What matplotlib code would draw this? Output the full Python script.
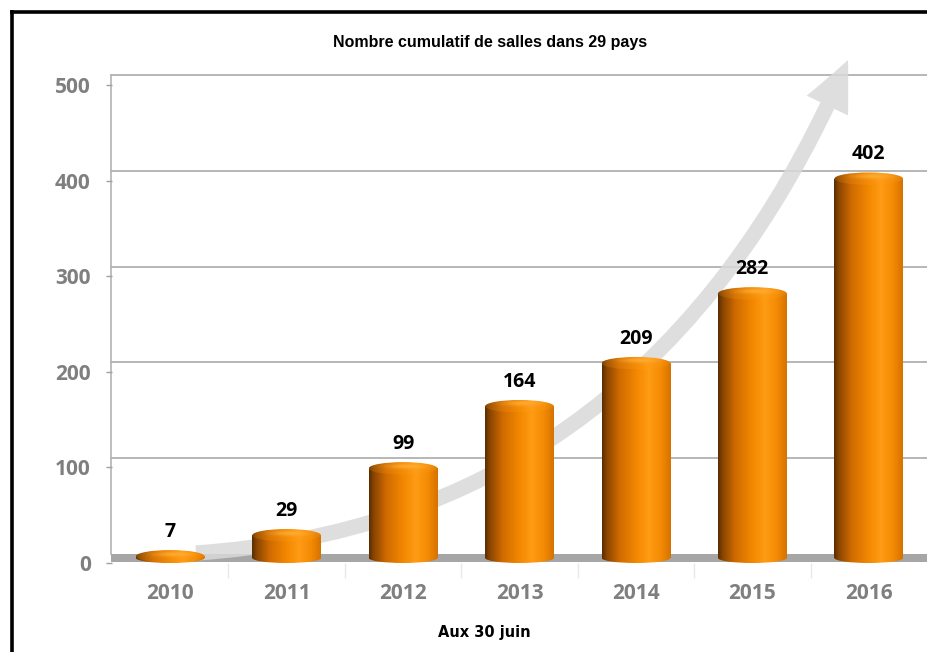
import numpy as np
import matplotlib
matplotlib.use("Agg")
import matplotlib.pyplot as plt
import matplotlib.transforms as mtransforms
from matplotlib.patches import Ellipse, Rectangle, FancyArrowPatch, ArrowStyle
from matplotlib.path import Path
from matplotlib.lines import Line2D
from matplotlib.colors import to_rgb

# ---- data ----
years = ["2010", "2011", "2012", "2013", "2014", "2015", "2016"]
salles = [7, 29, 99, 164, 209, 282, 402]
yticks = [0, 100, 200, 300, 400, 500]
title = "Nombre cumulatif de salles dans 29 pays"
xlabel = "Aux 30 juin"

NUMFONT = ["Open Sans", "DejaVu Sans"]

W, H = 927, 652
fig = plt.figure(figsize=(W / 100, H / 100), dpi=100)
fig.patch.set_facecolor("white")
ax = fig.add_axes([112 / W, (H - 563) / H, (W - 112) / W, (563 - 85) / H])
ax.set_facecolor("none")
x = np.arange(len(years))

ax.set_xlim(-0.5, 6.5)
ax.set_ylim(0, 500)
for s in ax.spines.values():
    s.set_visible(False)

px_per_unit = (563 - 85) / 500.0
off = mtransforms.ScaledTranslation(0, 9.5 / 100, fig.dpi_scale_trans)
back = ax.transData + off

# gridlines on back wall
for yv in yticks[1:]:
    ax.plot([-0.51, 6.5], [yv, yv], transform=back, color="#a3a3a3", lw=1.1,
            zorder=1, clip_on=False)
# left wall line
ax.plot([-0.51, -0.51], [0, 500], transform=back, color="#b3b3b3", lw=1.2,
        zorder=1, clip_on=False)
# floor
ax.fill_between([-0.51, 6.5], [-8 / px_per_unit] * 2, [0, 0], transform=back,
                color="#a6a6a6", lw=0, zorder=1.5, clip_on=False)

# ticks
ax.set_yticks(yticks)
ax.set_yticklabels([str(t) for t in yticks])
ax.tick_params(axis="y", length=4.3, width=1, color="#a0a0a0", pad=11,
               labelsize=15, labelcolor="#7f7f7f")
ax.set_xticks(x)
ax.set_xticklabels(years)
ax.tick_params(axis="x", length=0, pad=14.5, labelsize=15, labelcolor="#7f7f7f")
ax.set_xticks(np.arange(-0.5, 7.0, 1.0)[1:-1], minor=True)
ax.tick_params(axis="x", which="minor", length=11, width=1, color="#e8e8e8")
for lab in ax.get_xticklabels() + ax.get_yticklabels():
    lab.set_fontfamily(NUMFONT)
    lab.set_fontweight("bold")

# arrow (decorative trend arrow)
def fp(px, py):
    return (px / W, 1 - py / H)

apath = Path([fp(196, 553), fp(650, 522), fp(848, 60)],
             [Path.MOVETO, Path.CURVE3, Path.CURVE3])
arrow = FancyArrowPatch(path=apath,
                        arrowstyle=ArrowStyle.Simple(head_length=36, head_width=33,
                                                     tail_width=11),
                        mutation_scale=1, transform=fig.transFigure,
                        color="#d9d9d9", alpha=0.85, lw=0, zorder=2, clip_on=False)
ax.add_patch(arrow)

# bars
bw = 0.59
bars = ax.bar(x, salles, width=bw, color="none", edgecolor="none", zorder=3)

stops = [(0.0, "#5a2c00"), (0.07, "#8a4500"), (0.25, "#cf6a00"),
         (0.5, "#f38800"), (0.68, "#ff9b14"), (0.86, "#f48a04"), (1.0, "#d57200")]
n = 256
pos = np.linspace(0, 1, n)
sp = [s[0] for s in stops]
cols = np.array([to_rgb(s[1]) for s in stops])
grad = np.stack([np.interp(pos, sp, cols[:, k]) for k in range(3)], axis=-1)
body_img = grad[np.newaxis, :, :]

# top cap image: brighter with soft highlight near top centre
ny = 64
yy = np.linspace(1, -1, ny)[:, None]
xx = np.linspace(-1, 1, n)[None, :]
top = np.repeat(body_img, ny, axis=0).copy()
top = top * 0.8 + 0.2 * np.array(to_rgb("#ff9f1a"))
hl = np.exp(-((xx - 0.1) ** 2) / 0.3 - ((yy - 0.35) ** 2) / 0.15)
top = top + hl[..., None] * (np.array(to_rgb("#ffb440")) - top) * 0.7
top = np.clip(top, 0, 1)

ell_h = 12.5 / px_per_unit
base = 5.0 / px_per_unit
for b in bars:
    x0 = b.get_x()
    w = b.get_width()
    v = b.get_height()
    xc = x0 + w / 2
    # bottom ellipse
    e_bot = Ellipse((xc, base), w, 2 * base, transform=ax.transData)
    ax.add_patch(e_bot)
    e_bot.set_visible(False)
    im = ax.imshow(body_img, extent=[x0, x0 + w, 0, base], aspect="auto",
                   zorder=3, interpolation="bilinear")
    im.set_clip_path(e_bot)
    # body
    if v > base:
        r = Rectangle((x0, base), w, v - base, transform=ax.transData)
        ax.add_patch(r)
        r.set_visible(False)
        im = ax.imshow(body_img, extent=[x0, x0 + w, base, v], aspect="auto",
                       zorder=3.1, interpolation="bilinear")
        im.set_clip_path(r)
    # top ellipse
    e_top = Ellipse((xc, v), w, ell_h, transform=ax.transData)
    ax.add_patch(e_top)
    e_top.set_visible(False)
    im = ax.imshow(top, extent=[x0, x0 + w, v - ell_h / 2, v + ell_h / 2],
                   aspect="auto", zorder=3.2, interpolation="bilinear")
    im.set_clip_path(e_top)
    # value label
    ax.annotate(str(int(v)), (xc, v), xytext=(0, 17.5), textcoords="offset points",
                ha="center", va="center", fontsize=14, fontweight="bold",
                fontfamily=NUMFONT, color="black", zorder=5)

ax.set_xlim(-0.5, 6.5)
ax.set_ylim(0, 500)

# texts
fig.text(490 / W, 1 - 42 / H, title, ha="center", va="center", fontsize=11.5,
         fontweight="bold", fontfamily="Liberation Sans", color="black")
fig.text(484 / W, 1 - 633 / H, xlabel, ha="center", va="center", fontsize=10.5,
         fontweight="bold", fontfamily="DejaVu Sans", color="black")

# black frame (left and top)
fig.add_artist(Line2D([11.5 / W, 11.5 / W], [0, 1 - 10 / H], transform=fig.transFigure,
                      color="black", lw=2.6, solid_capstyle="butt"))
fig.add_artist(Line2D([10 / W, 1], [1 - 11.5 / H, 1 - 11.5 / H], transform=fig.transFigure,
                      color="black", lw=2.6, solid_capstyle="butt"))

fig.savefig("out.png", dpi=100)
